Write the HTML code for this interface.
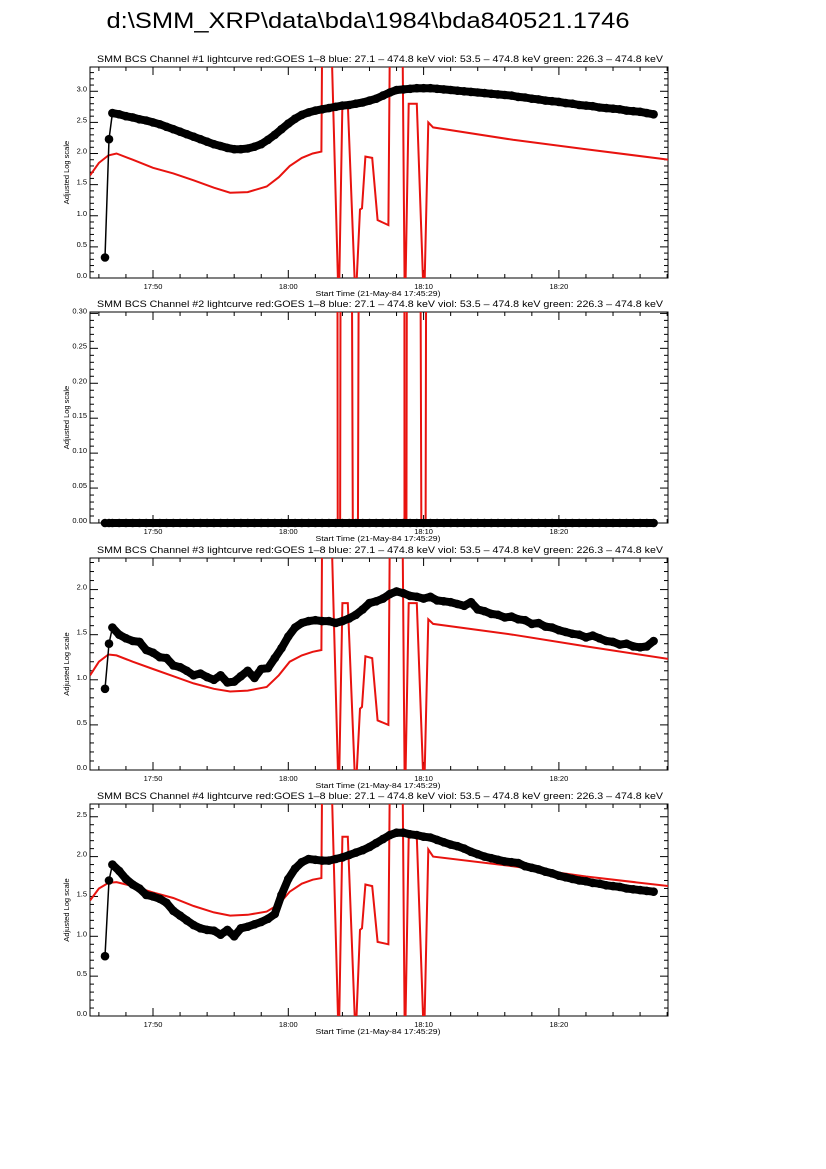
<!DOCTYPE html>
<html><head><meta charset="utf-8">
<style>
html,body{margin:0;padding:0;background:#fff;}
svg{display:block;font-family:"Liberation Sans",sans-serif;}
</style></head>
<body>
<svg id="chart" width="826" height="1169" viewBox="0 0 826 1169" xmlns="http://www.w3.org/2000/svg">
<rect width="826" height="1169" fill="#fff"/>
<text x="368" y="28" font-size="22" text-anchor="middle" textLength="523" lengthAdjust="spacingAndGlyphs">d:\SMM_XRP\data\bda\1984\bda840521.1746</text>
<g id="panels"></g>
</svg>
<script>
// time in minutes after 17:45:00
const xTickLabels = ["17:50","18:00","18:10","18:20"];
const xTickTimes = [5,15,25,35];
const leadT = [1.45,1.75];
const blackT = [2,2.5,3,3.5,4,4.5,5,5.5,6,6.5,7,7.5,8,8.5,9,9.5,10,10.5,11,11.5,12,12.5,13,13.5,14,14.5,15,15.5,16,16.5,17,17.5,18,18.5,19,19.5,20,20.5,21,21.5,22,22.5,23,23.5,24,24.5,25,25.5,26,26.5,27,27.5,28,28.5,29,29.5,30,30.5,31,31.5,32,32.5,33,33.5,34,34.5,35,35.5,36,36.5,37,37.5,38,38.5,39,39.5,40,40.5,41,41.5,42];
const ch1Lead = [0.33,2.23];
const ch1Black = [2.65,2.63,2.6,2.58,2.55,2.53,2.5,2.47,2.43,2.39,2.35,2.31,2.27,2.23,2.19,2.15,2.12,2.09,2.07,2.07,2.08,2.11,2.15,2.22,2.3,2.39,2.48,2.56,2.62,2.66,2.69,2.71,2.73,2.75,2.77,2.78,2.8,2.82,2.85,2.88,2.93,2.98,3.02,3.03,3.04,3.05,3.05,3.05,3.04,3.03,3.02,3.01,3.0,2.99,2.98,2.97,2.96,2.95,2.94,2.93,2.91,2.9,2.88,2.87,2.85,2.84,2.83,2.81,2.8,2.78,2.77,2.76,2.74,2.73,2.72,2.71,2.69,2.68,2.67,2.65,2.63];
const ch2Lead = [0,0];
const ch2Black = [0,0,0,0,0,0,0,0,0,0,0,0,0,0,0,0,0,0,0,0,0,0,0,0,0,0,0,0,0,0,0,0,0,0,0,0,0,0,0,0,0,0,0,0,0,0,0,0,0,0,0,0,0,0,0,0,0,0,0,0,0,0,0,0,0,0,0,0,0,0,0,0,0,0,0,0,0,0,0,0,0];
const ch3Lead = [0.9,1.4];
const ch3Black = [1.58,1.5,1.46,1.43,1.42,1.33,1.3,1.25,1.24,1.16,1.14,1.1,1.05,1.07,1.03,1.0,1.05,0.97,0.98,1.04,1.1,1.02,1.12,1.13,1.24,1.35,1.48,1.58,1.63,1.65,1.66,1.65,1.65,1.63,1.65,1.68,1.72,1.78,1.85,1.87,1.9,1.95,1.98,1.96,1.93,1.92,1.9,1.92,1.88,1.87,1.86,1.84,1.82,1.86,1.78,1.76,1.73,1.72,1.69,1.7,1.67,1.66,1.62,1.63,1.59,1.58,1.55,1.53,1.51,1.5,1.47,1.49,1.46,1.43,1.42,1.39,1.4,1.37,1.36,1.37,1.43];
const ch4Lead = [0.75,1.7];
const ch4Black = [1.9,1.82,1.72,1.65,1.6,1.52,1.5,1.47,1.42,1.32,1.26,1.2,1.14,1.1,1.08,1.07,1.02,1.08,1.0,1.1,1.12,1.15,1.18,1.22,1.28,1.52,1.72,1.85,1.93,1.97,1.96,1.95,1.95,1.97,1.99,2.02,2.05,2.08,2.12,2.17,2.22,2.27,2.3,2.3,2.28,2.27,2.25,2.24,2.21,2.18,2.15,2.13,2.1,2.06,2.03,2.0,1.98,1.96,1.94,1.93,1.92,1.88,1.86,1.84,1.81,1.79,1.76,1.74,1.72,1.7,1.69,1.67,1.66,1.64,1.63,1.62,1.6,1.59,1.58,1.57,1.56];
const redT = [0.35,1.0,1.7,2.3,3.5,5,6.5,8,9.5,10.7,12,13.4,14.3,15.1,16,16.8,17.45,17.5,18.2,18.7,18.75,19.0,19.4,19.95,20.0,20.3,20.45,20.7,21.2,21.6,22.4,22.5,23.45,23.6,23.65,23.9,24.5,25.0,25.05,25.35,25.7,31.6,37,43.1];
const ch1Red = [1.65,1.85,1.97,2.0,1.9,1.77,1.68,1.57,1.45,1.37,1.38,1.47,1.62,1.8,1.93,2.0,2.03,3.7,3.7,-0.3,-0.3,2.8,2.8,-0.3,-0.3,1.1,1.12,1.95,1.93,0.93,0.85,3.7,3.7,-0.3,-0.3,2.8,2.8,-0.3,-0.3,2.5,2.42,2.22,2.07,1.9];
const ch2Red = [2,2,2,2,2,2,2,2,2,2,2,2,2,2,2,2,2,9,9,-1,-1,2,2,-1,-1,1,1,2,2,1,1,9,9,-1,-1,2,2,-1,-1,2,2,2,2,2];
const ch3Red = [1.05,1.2,1.28,1.27,1.2,1.12,1.04,0.96,0.9,0.87,0.88,0.92,1.05,1.2,1.27,1.31,1.33,2.6,2.6,-0.2,-0.2,1.85,1.85,-0.2,-0.2,0.68,0.7,1.26,1.24,0.55,0.5,2.6,2.6,-0.2,-0.2,1.85,1.85,-0.2,-0.2,1.67,1.62,1.5,1.37,1.23];
const ch4Red = [1.45,1.6,1.67,1.68,1.63,1.55,1.48,1.38,1.3,1.26,1.27,1.31,1.4,1.56,1.66,1.71,1.73,2.95,2.95,-0.2,-0.2,2.25,2.25,-0.2,-0.2,1.08,1.1,1.65,1.63,0.93,0.9,2.95,2.95,-0.2,-0.2,2.25,2.25,-0.2,-0.2,2.09,2.0,1.88,1.75,1.63];

const panels = [
 {n:1, top:67, bot:278, ymax:3.39, major:0.5, minor:0.1, dec:1, lead:ch1Lead, black:ch1Black, red:ch1Red},
 {n:2, top:312, bot:523, ymax:0.302, major:0.05, minor:0.01, dec:2, lead:ch2Lead, black:ch2Black, red:ch2Red},
 {n:3, top:558, bot:770, ymax:2.35, major:0.5, minor:0.1, dec:1, lead:ch3Lead, black:ch3Black, red:ch3Red},
 {n:4, top:804, bot:1016, ymax:2.66, major:0.5, minor:0.1, dec:1, lead:ch4Lead, black:ch4Black, red:ch4Red}
];
const X0 = 90, X1 = 668;
const xScale = t => 153 + (t - 5) * 13.53;
const NS = "http://www.w3.org/2000/svg";
const root = document.getElementById('panels');
function mk(tag, attrs, parent){
  const e = document.createElementNS(NS, tag);
  for (const k in attrs) e.setAttribute(k, attrs[k]);
  (parent||root).appendChild(e);
  return e;
}
panels.forEach(p => {
  const yScale = v => p.bot - v / p.ymax * (p.bot - p.top);
  const g = mk('g', {});
  
  
  const cp = mk('clipPath', {id:'clip'+p.n}, g);
  mk('rect', {x:X0, y:p.top, width:X1-X0, height:p.bot-p.top}, cp);
  const tt = mk('text', {x:380, y:p.top-5, 'font-size':9, 'text-anchor':'middle', textLength:566, lengthAdjust:'spacingAndGlyphs'}, g);
  tt.textContent = 'SMM BCS Channel #' + p.n + ' lightcurve  red:GOES 1\u20138  blue: 27.1 \u2013 474.8 keV  viol: 53.5 \u2013 474.8 keV  green: 226.3 \u2013 474.8 keV';
  
  
  const fr = mk('rect', {x:X0, y:p.top, width:X1-X0, height:p.bot-p.top, fill:'none', stroke:'#000', 'stroke-width':1}, g);
  
  
  for (let t = 1; t <= 43; t += 2) {
    const x = xScale(t);
    if (x < X0 || x > X1) continue;
    const isMajor = (t % 10) === 5;
    const L = isMajor ? 8 : 4;
    mk('line', {x1:x, x2:x, y1:p.bot, y2:p.bot-L, stroke:'#000'}, g);
    mk('line', {x1:x, x2:x, y1:p.top, y2:p.top+L, stroke:'#000'}, g);
  }
  xTickLabels.forEach((lab, i) => {
    const tl = mk('text', {x:xScale(xTickTimes[i]), y:p.bot+11, 'font-size':7.5, 'text-anchor':'middle'}, g);
    tl.textContent = lab;
    
    
  });
  const st = mk('text', {x:378, y:p.bot+18, 'font-size':7, 'text-anchor':'middle', textLength:125, lengthAdjust:'spacingAndGlyphs'}, g);
  st.textContent = 'Start Time (21-May-84 17:45:29)';
  
  
  const nMinor = Math.floor(p.ymax / p.minor + 1e-6);
  const per = Math.round(p.major / p.minor);
  for (let i = 0; i <= nMinor; i++) {
    const v = i * p.minor;
    const y = yScale(v);
    const isMajor = i % per === 0;
    const L = isMajor ? 8 : 4;
    mk('line', {x1:X0, x2:X0+L, y1:y, y2:y, stroke:'#000'}, g);
    mk('line', {x1:X1, x2:X1-L, y1:y, y2:y, stroke:'#000'}, g);
    if (isMajor) {
      const yl = mk('text', {x:X0-3, y:y, 'font-size':7.5, 'text-anchor':'end'}, g);
      yl.textContent = v.toFixed(p.dec);
      
      
    }
  }
  const yt = mk('text', {x:0, y:0, 'font-size':7.5, 'text-anchor':'middle', transform:'translate(69,'+((p.top+p.bot)/2)+') rotate(-90)'}, g);
  yt.textContent = 'Adjusted Log scale';
  
  
  const rp = redT.map((t, i) => xScale(t).toFixed(1) + ',' + yScale(p.red[i]).toFixed(1)).join(' ');
  const rl = mk('polyline', {points:rp, fill:'none', stroke:'#e8130f', 'stroke-width':2, 'clip-path':'url(#clip'+p.n+')'}, g);
  
  
  const allT = leadT.concat(blackT);
  const allV = p.lead.concat(p.black);
  const bp = allT.map((t, i) => xScale(t).toFixed(1) + ',' + yScale(allV[i]).toFixed(1)).join(' ');
  const bl = mk('polyline', {points:bp, fill:'none', stroke:'#000', 'stroke-width':1.5}, g);
  
  
  const bandPts = blackT.map((t, i) => xScale(t).toFixed(1) + ',' + yScale(p.black[i]).toFixed(1)).join(' ');
  const band = mk('polyline', {points:bandPts, fill:'none', stroke:'#000', 'stroke-width':8, 'stroke-linejoin':'round', 'stroke-linecap':'round'}, g);
  
  
  allT.forEach((t, i) => {
    const c = mk('circle', {cx:xScale(t).toFixed(1), cy:yScale(allV[i]).toFixed(1), r:4.3, fill:'#000'}, g);
    
    
  });
});
</script>
</body></html>
